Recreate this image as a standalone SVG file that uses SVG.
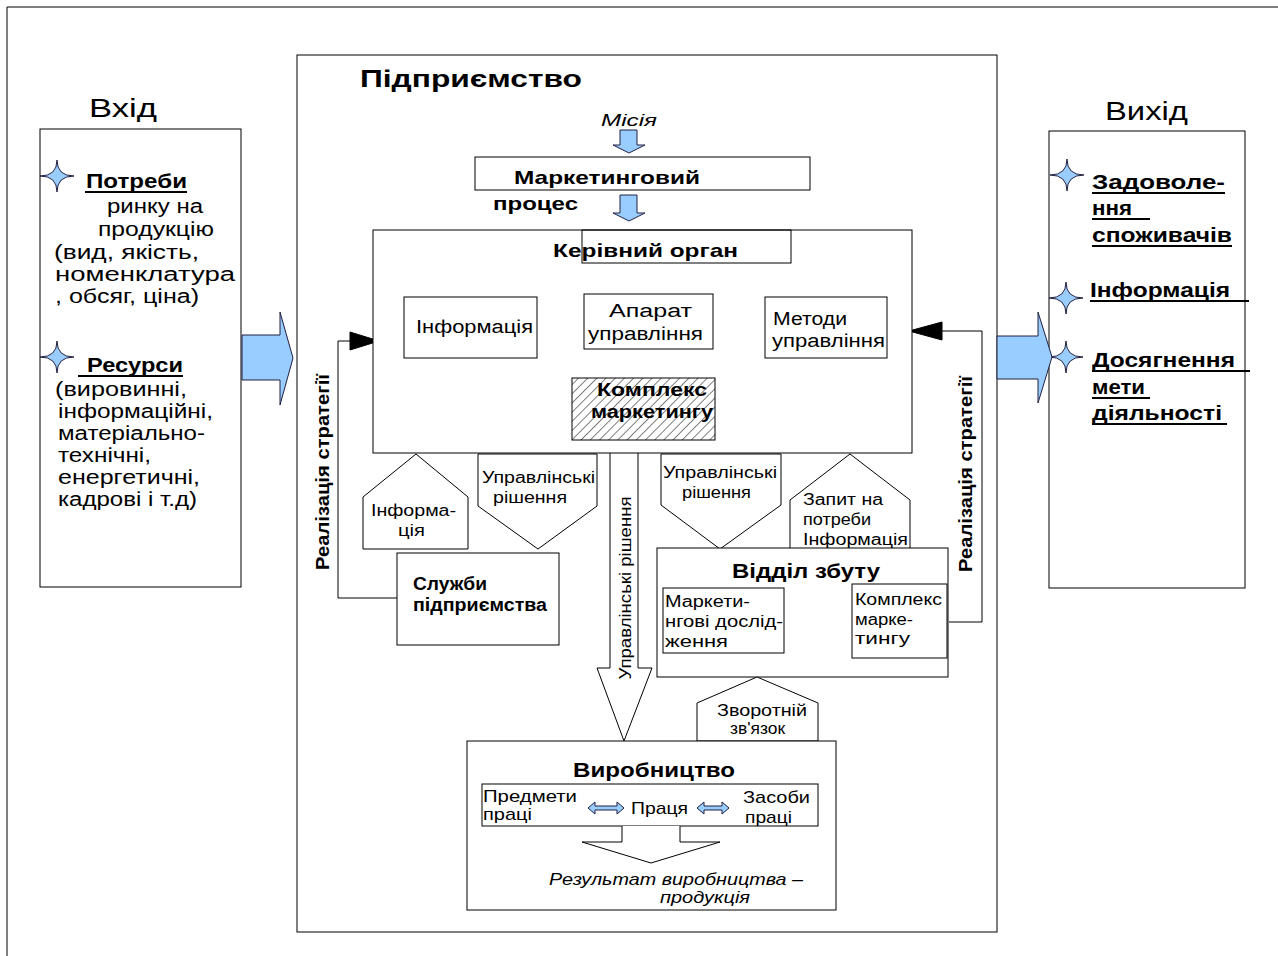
<svg xmlns="http://www.w3.org/2000/svg" width="1278" height="956" viewBox="0 0 1278 956">
<style>
.bx{fill:#fff;stroke:#000;stroke-width:1}
.ln{fill:none;stroke:#000;stroke-width:1}
.ul{fill:none;stroke:#000;stroke-width:2}
.bl{fill:#99ccff;stroke:#202040;stroke-width:1}
.ah{fill:#000;stroke:#000;stroke-width:1}
.hx{fill:url(#hatch);stroke:#000;stroke-width:1}
text{font-family:"Liberation Sans",Arial,sans-serif;fill:#000}
.f24{font-size:26px}
.f22b{font-size:24px;font-weight:bold}
.f19{font-size:20px}
.f19b{font-size:20px;font-weight:bold}
.f18b{font-size:19px;font-weight:bold}
.f17{font-size:18px}
.f17b{font-size:18px;font-weight:bold}
.f16{font-size:17px}
.f15{font-size:16px}
.i16{font-size:16.5px;font-style:italic}
.f20b{font-size:21px;font-weight:bold}
.v19b{font-size:19px;font-weight:bold}
.v17{font-size:17px}
</style>
<defs>
<pattern id="hatch" width="6.5" height="6.5" patternUnits="userSpaceOnUse" patternTransform="rotate(45)">
<rect width="6.5" height="6.5" fill="#fff"/>
<line x1="0" y1="0" x2="0" y2="6.5" stroke="#000" stroke-width="1"/>
</pattern>
<path id="star" d="M0,-16 Q0,0 17,0 Q0,0 0,16 Q0,0 -17,0 Q0,0 0,-16 Z"/>
</defs>

<path class="ln" d="M7,956 V7 H1278"/>

<g id="input">
<rect class="bx" x="40" y="129" width="201" height="458"/>
<text class="f24" x="89" y="117" textLength="68" lengthAdjust="spacingAndGlyphs">Вхід</text>
<use href="#star" x="57" y="176" class="bl"/>
<text class="f19b" x="86" y="188" textLength="101" lengthAdjust="spacingAndGlyphs">Потреби</text>
<line class="ul" x1="85" y1="192" x2="187" y2="192"/>
<text class="f19" x="107" y="213" textLength="96" lengthAdjust="spacingAndGlyphs">ринку на</text>
<text class="f19" x="98" y="236" textLength="116" lengthAdjust="spacingAndGlyphs">продукцію</text>
<text class="f19" x="54" y="259" textLength="145" lengthAdjust="spacingAndGlyphs">(вид, якість,</text>
<text class="f19" x="55" y="281" textLength="180" lengthAdjust="spacingAndGlyphs">номенклатура</text>
<text class="f19" x="55" y="303" textLength="144" lengthAdjust="spacingAndGlyphs">, обсяг, ціна)</text>
<use href="#star" x="57" y="357" class="bl"/>
<text class="f19b" x="87" y="372" textLength="96" lengthAdjust="spacingAndGlyphs">Ресурси</text>
<line class="ul" x1="78" y1="376" x2="183" y2="376"/>
<text class="f19" x="55" y="396" textLength="132" lengthAdjust="spacingAndGlyphs">(вировинні,</text>
<text class="f19" x="58" y="418" textLength="155" lengthAdjust="spacingAndGlyphs">інформаційні,</text>
<text class="f19" x="58" y="440" textLength="147" lengthAdjust="spacingAndGlyphs">матеріально-</text>
<text class="f19" x="58" y="462" textLength="93" lengthAdjust="spacingAndGlyphs">технічні,</text>
<text class="f19" x="58" y="484" textLength="142" lengthAdjust="spacingAndGlyphs">енергетичні,</text>
<text class="f19" x="58" y="506" textLength="139" lengthAdjust="spacingAndGlyphs">кадрові і т.д)</text>
</g>

<g id="output">
<rect class="bx" x="1049" y="131" width="196" height="457"/>
<text class="f24" x="1105" y="120" textLength="83" lengthAdjust="spacingAndGlyphs">Вихід</text>
<use href="#star" x="1067" y="175" class="bl"/>
<use href="#star" x="1066" y="298" class="bl"/>
<use href="#star" x="1066" y="357" class="bl"/>
<text class="f19b" x="1092" y="189" textLength="133" lengthAdjust="spacingAndGlyphs">Задоволе-</text>
<line class="ul" x1="1092" y1="193" x2="1225" y2="193"/>
<text class="f19b" x="1092" y="215" textLength="40" lengthAdjust="spacingAndGlyphs">ння</text>
<line class="ul" x1="1092" y1="219" x2="1150" y2="219"/>
<text class="f19b" x="1092" y="242" textLength="140" lengthAdjust="spacingAndGlyphs">споживачів</text>
<line class="ul" x1="1092" y1="246" x2="1232" y2="246"/>
<text class="f19b" x="1090" y="297" textLength="140" lengthAdjust="spacingAndGlyphs">Інформація</text>
<line class="ul" x1="1090" y1="301" x2="1249" y2="301"/>
<text class="f19b" x="1092" y="367" textLength="143" lengthAdjust="spacingAndGlyphs">Досягнення</text>
<line class="ul" x1="1092" y1="371" x2="1250" y2="371"/>
<text class="f19b" x="1092" y="394" textLength="53" lengthAdjust="spacingAndGlyphs">мети</text>
<line class="ul" x1="1092" y1="398" x2="1150" y2="398"/>
<text class="f19b" x="1092" y="420" textLength="130" lengthAdjust="spacingAndGlyphs">діяльності</text>
<line class="ul" x1="1092" y1="424" x2="1227" y2="424"/>
</g>

<g id="enterprise">
<rect class="bx" x="297" y="55" width="700" height="877"/>
<text class="f22b" x="360" y="87" textLength="222" lengthAdjust="spacingAndGlyphs">Підприємство</text>
<text class="i16" x="601" y="126" textLength="56" lengthAdjust="spacingAndGlyphs">Місія</text>
</g>

<g id="connectors">
<path class="bl" d="M242,335 H280 V312 L293,358 L280,405 V380 H242 Z"/>
<path class="bl" d="M997,336 H1038 V312 L1052,357 L1038,403 V379 H997 Z"/>
<path class="bl" d="M620,130 H637 V145 H645 L629,153 L613,145 H620 Z"/>
<path class="bl" d="M620,195 H637 V213 H645 L629,221 L613,213 H620 Z"/>
<path class="bl" d="M538,311 L552,305 V308 H584 V314 H552 V317 Z"/>
<path class="bl" d="M539,327 H567 V322 L584,330.5 L567,339 V334 H539 Z"/>
<path class="bl" d="M713,310 H745 V305 L762,314 L745,323 V318 H713 Z"/>
<path class="bl" d="M713,334.5 L728,326 V330 H762 V339 H728 V343 Z"/>
<path class="hx" d="M630,349 H658 V370 H675 L643,380 L612,370 H630 Z"/>
<path class="ln" d="M398,598 H338 V341 H352"/>
<path class="ah" d="M350,332 L379,341 L350,350 Z"/>
<path class="ln" d="M949,622 H982 V331 H940"/>
<path class="ah" d="M942,322 L909,331 L942,340 Z"/>
<path class="bx" d="M610,453 V668 H597 L624,741 L652,668 H638 V453"/>
<path class="bl" d="M787,625 L807,603 V618 H823 V603 L843,625 L823,648 V633 H807 V648 Z"/>
<text class="v19b" transform="translate(329,472) rotate(-90)" text-anchor="middle" textLength="196" lengthAdjust="spacingAndGlyphs">Реалізація стратегії</text>
<text class="v19b" transform="translate(972,474) rotate(-90)" text-anchor="middle" textLength="196" lengthAdjust="spacingAndGlyphs">Реалізація стратегії</text>
<text class="v17" transform="translate(631,588) rotate(-90)" text-anchor="middle" textLength="183" lengthAdjust="spacingAndGlyphs">Управлінські рішення</text>
</g>

<g id="marketing-process">
<rect class="bx" x="475" y="157" width="335" height="33"/>
<text class="f18b" x="514" y="184" textLength="186" lengthAdjust="spacingAndGlyphs">Маркетинговий</text>
<text class="f18b" x="493" y="210" textLength="85" lengthAdjust="spacingAndGlyphs">процес</text>
</g>

<g id="governing-body">
<rect class="bx" x="373" y="230" width="539" height="223"/>
<rect class="ln" x="582" y="230" width="209" height="33"/>
<text class="f18b" x="553" y="257" textLength="185" lengthAdjust="spacingAndGlyphs">Керівний орган</text>
</g>

<g id="information">
<rect class="bx" x="404" y="297" width="133" height="61"/>
<text class="f17" x="416" y="333" textLength="117" lengthAdjust="spacingAndGlyphs">Інформація</text>
</g>

<g id="apparatus">
<rect class="bx" x="584" y="294" width="129" height="55"/>
<text class="f17" x="609" y="317" textLength="83" lengthAdjust="spacingAndGlyphs">Апарат</text>
<text class="f17" x="588" y="340" textLength="115" lengthAdjust="spacingAndGlyphs">управління</text>
</g>

<g id="methods">
<rect class="bx" x="765" y="297" width="122" height="61"/>
<text class="f17" x="773" y="325" textLength="74" lengthAdjust="spacingAndGlyphs">Методи</text>
<text class="f17" x="772" y="347" textLength="113" lengthAdjust="spacingAndGlyphs">управління</text>
</g>

<g id="marketing-mix">
<rect class="hx" x="572" y="378" width="143" height="62"/>
<text class="f17b" x="597" y="396" textLength="110" lengthAdjust="spacingAndGlyphs">Комплекс</text>
<text class="f17b" x="591" y="418" textLength="122" lengthAdjust="spacingAndGlyphs">маркетингу</text>
</g>

<g id="info-pentagon">
<path class="bx" d="M416,454 L468,497 V549 H363 V497 Z"/>
<text class="f15" x="371" y="516" textLength="85" lengthAdjust="spacingAndGlyphs">Інформа-</text>
<text class="f15" x="398" y="536" textLength="27" lengthAdjust="spacingAndGlyphs">ція</text>
</g>

<g id="decisions-left">
<path class="bx" d="M478,454 H597 V506 L538,549 L478,506 Z"/>
<text class="f15" x="482" y="483" textLength="113" lengthAdjust="spacingAndGlyphs">Управлінські</text>
<text class="f15" x="493" y="503" textLength="74" lengthAdjust="spacingAndGlyphs">рішення</text>
</g>

<g id="services">
<rect class="bx" x="397" y="553" width="162" height="92"/>
<text class="f17b" x="413" y="590" textLength="74" lengthAdjust="spacingAndGlyphs">Служби</text>
<text class="f17b" x="413" y="611" textLength="134" lengthAdjust="spacingAndGlyphs">підприємства</text>
</g>

<g id="decisions-right">
<path class="bx" d="M661,454 H781 V505 L720,549 L661,505 Z"/>
<text class="f15" x="663" y="478" textLength="114" lengthAdjust="spacingAndGlyphs">Управлінські</text>
<text class="f15" x="682" y="498" textLength="69" lengthAdjust="spacingAndGlyphs">рішення</text>
</g>

<g id="request-pentagon">
<path class="bx" d="M850,454 L910,500 V549 H790 V500 Z"/>
<text class="f15" x="803" y="505" textLength="80" lengthAdjust="spacingAndGlyphs">Запит на</text>
<text class="f15" x="803" y="525" textLength="68" lengthAdjust="spacingAndGlyphs">потреби</text>
<text class="f15" x="803" y="545" textLength="105" lengthAdjust="spacingAndGlyphs">Інформація</text>
</g>

<g id="sales-dept">
<rect class="bx" x="657" y="548" width="291" height="129"/>
<text class="f19b" x="732" y="578" textLength="148" lengthAdjust="spacingAndGlyphs">Відділ збуту</text>
<rect class="bx" x="663" y="588" width="121" height="65"/>
<text class="f15" x="665" y="607" textLength="85" lengthAdjust="spacingAndGlyphs">Маркети-</text>
<text class="f15" x="665" y="627" textLength="118" lengthAdjust="spacingAndGlyphs">нгові дослід-</text>
<text class="f15" x="665" y="647" textLength="63" lengthAdjust="spacingAndGlyphs">ження</text>
<rect class="bx" x="852" y="584" width="95" height="74"/>
<text class="f15" x="855" y="605" textLength="87" lengthAdjust="spacingAndGlyphs">Комплекс</text>
<text class="f15" x="855" y="625" textLength="58" lengthAdjust="spacingAndGlyphs">марке-</text>
<text class="f15" x="855" y="644" textLength="55" lengthAdjust="spacingAndGlyphs">тингу</text>
</g>

<g id="feedback">
<path class="bx" d="M757,677 L818,703 V741 H697 V703 Z"/>
<text class="f15" x="717" y="716" textLength="90" lengthAdjust="spacingAndGlyphs">Зворотній</text>
<text class="f15" x="730" y="734" textLength="55" lengthAdjust="spacingAndGlyphs">зв'язок</text>
</g>

<g id="production">
<rect class="bx" x="467" y="741" width="369" height="169"/>
<text class="f20b" x="573" y="777" textLength="162" lengthAdjust="spacingAndGlyphs">Виробництво</text>
<rect class="ln" x="482" y="784" width="336" height="42"/>
<text class="f16" x="483" y="802" textLength="94" lengthAdjust="spacingAndGlyphs">Предмети</text>
<text class="f16" x="483" y="820" textLength="49" lengthAdjust="spacingAndGlyphs">праці</text>
<text class="f16" x="631" y="814" textLength="57" lengthAdjust="spacingAndGlyphs">Праця</text>
<text class="f16" x="743" y="803" textLength="67" lengthAdjust="spacingAndGlyphs">Засоби</text>
<text class="f16" x="745" y="823" textLength="47" lengthAdjust="spacingAndGlyphs">праці</text>
<text class="i16" x="549" y="885" textLength="254" lengthAdjust="spacingAndGlyphs">Результат виробництва –</text>
<text class="i16" x="660" y="903" textLength="90" lengthAdjust="spacingAndGlyphs">продукція</text>
</g>
<g id="production-arrows">
<path class="bl" d="M588,808 L595,802 V806 H617 V802 L624,808 L617,814 V810 H595 V814 Z"/>
<path class="bl" d="M697,808 L704,802 V806 H722 V802 L729,808 L722,814 V810 H704 V814 Z"/>
<path class="bx" d="M622,826 V842 H582 L651,863 L720,842 H680 V826"/>
</g>
</svg>
